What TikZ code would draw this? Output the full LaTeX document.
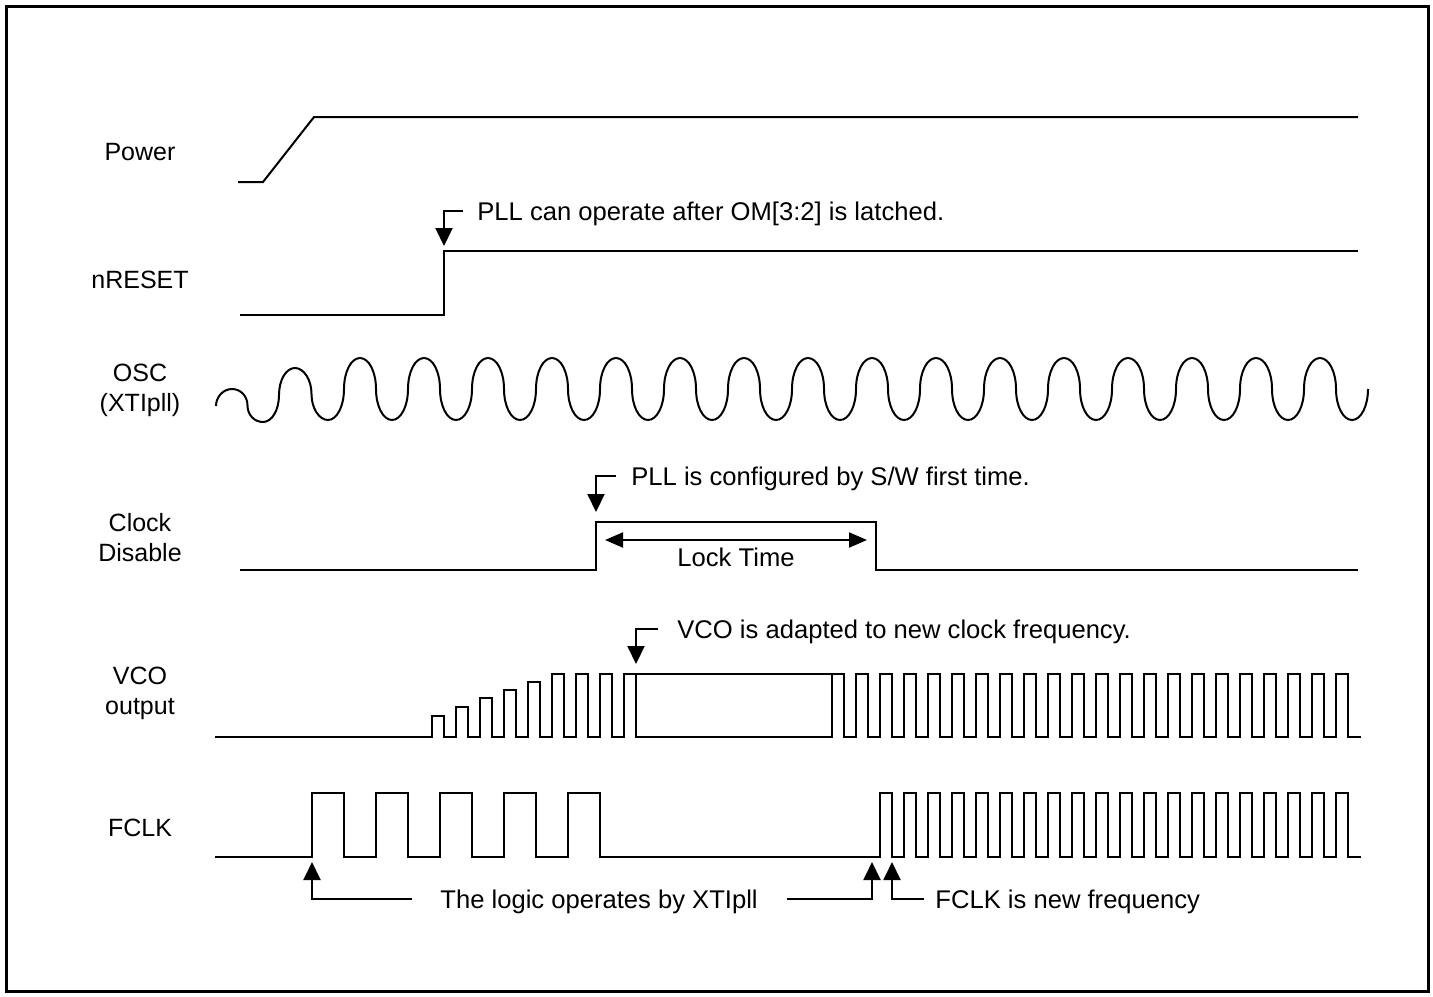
\documentclass[tikz,border=0pt]{standalone}
\usepackage{fontspec}
\setmainfont{Liberation Sans}
\usetikzlibrary{arrows.meta, positioning}

\begin{document}
\begin{tikzpicture}[
    x=0.5pt, y=-0.5pt,
    every node/.style={font=\fontsize{12.5}{15}\selectfont},
    signal/.style={
        line width=1pt,
        line join=miter
    },
    sigtag/.style={
        align=center,
        inner sep=0pt
    },
    note/.style={
        inner sep=0pt,
        text height=9pt,
        text depth=0pt,
        font=\fontsize{12.8}{15}\selectfont
    },
    arrow/.style={
        line width=1pt,
        -{Triangle[length=9pt, width=8.5pt]}
    },
    dimline/.style={
        line width=1pt,
        {Triangle[length=9pt, width=7.5pt]}-{Triangle[length=9pt, width=7.5pt]}
    },
    frame/.style={
        line width=1.5pt
    }
]

\useasboundingbox (0,0) rectangle (1433,996);
\draw [frame] (6,6) rectangle (1428,991);

% ==================== SIGNAL NAMES (LEFT) ====================

\node (lbl_power) [sigtag] at (140,152) {Power};
\node (lbl_rst) [sigtag] at (140,280) {nRESET};
\node (lbl_osc) [sigtag] at (140,390) {OSC\\(XTIpll)};
\node (lbl_clkdis) [sigtag] at (140,538) {Clock\\Disable};
\node (lbl_vco) [sigtag] at (140,693) {VCO\\output};
\node (lbl_fclk) [sigtag] at (140,828) {FCLK};

% ==================== WAVEFORMS ====================

% Power ramp
\draw [signal] (238,182) -- (263,182) -- (314,117) -- (1358,117);

% nRESET
\draw [signal] (240,315) -- (444,315) -- (444,251) -- (1358,251);

% OSC (XTIpll): half-ellipse humps, growing at start
\draw [signal] (216,406)
    .. controls +(0,-9) and +(-9,0) .. (232,389)
    .. controls +(9,0) and +(0,-9) .. (247.5,405.5)
    .. controls +(0,9) and +(-9,0) .. (263,422)
    .. controls +(9,0) and +(0,15) .. (279,395)
    .. controls +(0,-15) and +(-9,0) .. (295,368)
    .. controls +(9,0) and +(0,-14) .. (311.5,394)
    .. controls +(0,14) and +(-9,0) .. (328,420)
    .. controls +(9,0) and +(0,17) .. (344,389)
    .. controls +(0,-17) and +(-9,0) .. (360,358)
    \foreach \k in {0,...,14} {
        .. controls +(9,0) and +(0,-17) .. ++(16,31)
        .. controls +(0,17) and +(-9,0) .. ++(16,31)
        .. controls +(9,0) and +(0,17) .. ++(16,-31)
        .. controls +(0,-17) and +(-9,0) .. ++(16,-31) }
    .. controls +(9,0) and +(0,-17) .. ++(16,31)
    .. controls +(0,17) and +(-9,0) .. ++(16,31)
    .. controls +(9,0) and +(0,17) .. ++(16,-31);

% Clock Disable
\draw [signal] (240,570) -- (596,570) -- (596,522) -- (876,522) -- (876,570) -- (1358,570);

% VCO output
\draw [signal] (215,737)
    \foreach \top [count=\i from 0] in {716,707,698,690,682,674,674,674,674} {
        -- (432+24*\i,737) -- (432+24*\i,\top) -- (444+24*\i,\top) -- (444+24*\i,737) }
    -- (832,737) -- (832,674) -- (844,674) -- (844,737)
    \foreach \i in {0,...,20} {
        -- (856+24*\i,737) -- (856+24*\i,674) -- (868+24*\i,674) -- (868+24*\i,737) }
    -- (1361,737);
\draw [signal] (636,674) -- (832,674);

% FCLK
\draw [signal] (215,857)
    \foreach \i in {0,...,4} {
        -- (312+64*\i,857) -- (312+64*\i,793) -- (344+64*\i,793) -- (344+64*\i,857) }
    \foreach \i in {0,...,19} {
        -- (880+24*\i,857) -- (880+24*\i,793) -- (892+24*\i,793) -- (892+24*\i,857) }
    -- (1361,857);

% ==================== ANNOTATIONS ====================

\coordinate (rst_up) at (444,246);
\coordinate (latch_c) at (463,211);
\node (note_latch) [note, right=7pt of latch_c] {PLL can operate after OM[3:2] is latched.};
\draw [arrow] (latch_c) -| (rst_up);

\coordinate (cfg_up) at (596,512);
\coordinate (cfg_c) at (616,476);
\node (note_cfg) [note, right=7.5pt of cfg_c] {PLL is configured by S/W first time.};
\draw [arrow] (cfg_c) -| (cfg_up);

\coordinate (lock_l) at (605,540);
\coordinate (lock_r) at (867,540);
\draw [dimline] (lock_l) -- (lock_r);
\node (lock_txt) [note] at (736,557) {Lock Time};

\coordinate (vco_up) at (636,664);
\coordinate (vco_c) at (658,629);
\node (note_vco) [note, right=9.5pt of vco_c] {VCO is adapted to new clock frequency.};
\draw [arrow] (vco_c) -| (vco_up);

\coordinate (fclk_slow) at (312,862);
\coordinate (fclk_stop) at (872,862);
\coordinate (fclk_fast) at (892,862);
\coordinate (logic_l) at (412,899);
\coordinate (logic_r) at (787,899);
\coordinate (newf_c) at (924,899);
\node (note_logic) [note, right=14pt of logic_l] {The logic operates by XTIpll};
\node (note_newf) [note, right=5.5pt of newf_c] {FCLK is new frequency};
\draw [arrow] (logic_l) -| (fclk_slow);
\draw [arrow] (logic_r) -| (fclk_stop);
\draw [arrow] (newf_c) -| (fclk_fast);

\end{tikzpicture}
\end{document}
